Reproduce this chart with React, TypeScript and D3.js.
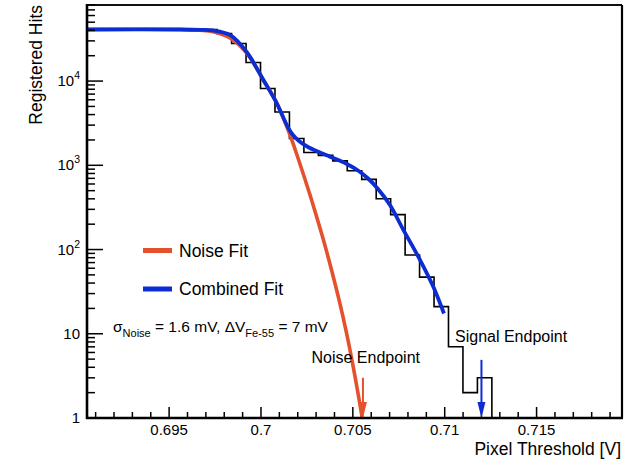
import React from "react";
import * as d3 from "d3";

// ---- data ----
const X_MIN = 0.69053;
const X_MAX = 0.71965;
const Y_MIN = 1;
const Y_MAX = 8e4;

// histogram: 37 uniform bins between X_MIN and X_MAX
const histCounts = [
  40800, 40800, 40800, 40800, 40800, 40800, 40800, 40800, 40800,
  36600, 27900, 16600, 8150, 4300, 2080, 1420, 1310, 1130, 860, 680,
  400, 260, 86, 47, 21, 7, 2, 3,
  0, 0, 0, 0, 0, 0, 0, 0, 0,
];

// noise fit (red)
const noiseFitX = [
  0.69053, 0.69559, 0.69668, 0.69739, 0.69831, 0.69922, 0.70013, 0.70086,
  0.70158, 0.70196, 0.70232, 0.70267, 0.703, 0.7034, 0.70384, 0.70425,
  0.70462, 0.70495, 0.70525, 0.70551,
];
const noiseFitY = [
  40970, 40970, 40080, 38580, 32460, 21550, 10300, 5490,
  2290, 1326, 767, 444, 257, 130, 57.2, 25.2,
  11.1, 4.88, 2.15, 1.0,
];

// combined fit (blue)
const combFitX = [
  0.69053, 0.69559, 0.69668, 0.69739, 0.69831, 0.69922, 0.70013, 0.70086,
  0.7012, 0.70147, 0.70174, 0.70207, 0.70251, 0.70321, 0.70376, 0.70467,
  0.70528, 0.70583, 0.70637, 0.70702, 0.70775, 0.70866, 0.70938, 0.70996,
];
const combFitY = [
  40970, 40970, 40620, 39860, 35250, 22140, 10300, 5450,
  3747, 2811, 2290, 1944, 1672, 1419, 1265, 1036,
  868, 697, 523, 338, 171, 75.1, 36.2, 17.4,
];

const xMajorTicks = [0.695, 0.7, 0.705, 0.71, 0.715];
const xTickLabels = ["0.695", "0.7", "0.705", "0.71", "0.715"];
const yMajorTicks = [1, 10, 100, 1000, 10000];
const yTickBase = ["1", "10", "10", "10", "10"];
const yTickExp = ["", "", "2", "3", "4"];

const endpoints = [
  { name: "Noise Endpoint", x: 0.70555, top: 3.0, color: "#e4512c" },
  { name: "Signal Endpoint", x: 0.712, top: 4.9, color: "#0c2cd4" },
];

const RED = "#e4512c";
const BLUE = "#0c2cd4";
const FONT = "'Liberation Sans', Arial, Helvetica, sans-serif";

export default function App() {
  const L = 87, R = 622, T = 5, B = 418;
  const x = d3.scaleLinear().domain([X_MIN, X_MAX]).range([L, R]);
  const y = d3.scaleLog().domain([Y_MIN, Y_MAX]).range([B, T]);
  const yc = (v: number) => (v < Y_MIN ? B : y(v));

  const nb = histCounts.length;
  const w = (X_MAX - X_MIN) / nb;
  const histPts: [number, number][] = histCounts.map((c, i) => [X_MIN + i * w, c]);
  histPts.push([X_MAX, histCounts[nb - 1]]);
  const histPath = d3
    .line<[number, number]>()
    .x((d) => x(d[0]))
    .y((d) => yc(d[1]))
    .curve(d3.curveStepAfter)(histPts) as string;

  const fitLine = d3
    .line<[number, number]>()
    .x((d) => x(d[0]))
    .y((d) => yc(d[1]))
    .curve(d3.curveCatmullRom.alpha(0.5));
  const noisePath = fitLine(noiseFitX.map((v, i) => [v, noiseFitY[i]])) as string;
  const combPath = fitLine(combFitX.map((v, i) => [v, combFitY[i]])) as string;

  // minor ticks
  const xMinor = d3.range(0.691, 0.7195, 0.001).filter(
    (v) => !xMajorTicks.some((m) => Math.abs(m - v) < 1e-7)
  );
  const yMinor: number[] = [];
  for (let dec = 1; dec <= 1e4; dec *= 10) {
    for (let k = 2; k <= 9; k++) {
      const v = k * dec;
      if (v <= Y_MAX) yMinor.push(v);
    }
  }

  return (
    <svg
      width={641}
      height={462}
      style={{ position: "absolute", left: 0, top: 0, background: "#fff" }}
      fontFamily={FONT}
    >
      <rect x={0} y={0} width={641} height={462} fill="#fff" />
      {/* histogram */}
      <path d={histPath} fill="none" stroke="#000" strokeWidth={1.6} />
      {/* fits */}
      <path d={noisePath} fill="none" stroke={RED} strokeWidth={3.6} strokeLinejoin="round" />
      <path d={combPath} fill="none" stroke={BLUE} strokeWidth={3.8} strokeLinejoin="round" />

      {/* frame */}
      <line x1={L} y1={T} x2={R} y2={T} stroke="#111" strokeWidth={2} />
      <line x1={R} y1={T} x2={R} y2={B} stroke="#000" strokeWidth={2.2} />
      <line x1={L} y1={T - 1} x2={L} y2={B + 1} stroke="#000" strokeWidth={2.6} />
      <line x1={L - 1} y1={B} x2={R + 1} y2={B} stroke="#000" strokeWidth={2.6} />

      {/* x ticks */}
      {xMajorTicks.map((v) => (
        <line key={"xM" + v} x1={x(v)} x2={x(v)} y1={B} y2={B - 11} stroke="#000" strokeWidth={1.5} />
      ))}
      {xMinor.map((v) => (
        <line key={"xm" + v} x1={x(v)} x2={x(v)} y1={B} y2={B - 6} stroke="#000" strokeWidth={1.5} />
      ))}
      {xMajorTicks.map((v, i) => (
        <text key={"xl" + v} x={x(v)} y={435} fontSize={15} textAnchor="middle" fill="#000">
          {xTickLabels[i]}
        </text>
      ))}

      {/* y ticks */}
      {yMajorTicks.map((v) => (
        <line key={"yM" + v} x1={L} x2={L + 16} y1={y(v)} y2={y(v)} stroke="#000" strokeWidth={1.5} />
      ))}
      {yMinor.map((v) => (
        <line key={"ym" + v} x1={L} x2={L + 8} y1={y(v)} y2={y(v)} stroke="#000" strokeWidth={1.5} />
      ))}
      {yMajorTicks.map((v, i) => (
        <text key={"yl" + v} x={80} y={y(v) + 5} fontSize={15} textAnchor="end" fill="#000">
          {yTickBase[i]}
          {yTickExp[i] && (
            <tspan fontSize={10.5} dy={-7}>
              {yTickExp[i]}
            </tspan>
          )}
        </text>
      ))}

      {/* axis titles */}
      <text x={621} y={455} fontSize={17.5} textAnchor="end" fill="#000">
        Pixel Threshold [V]
      </text>
      <text
        transform={`translate(42,5) rotate(-90)`}
        fontSize={17.5}
        textAnchor="end"
        fill="#000"
      >
        Registered Hits
      </text>

      {/* legend */}
      <line x1={143} x2={172} y1={250.5} y2={250.5} stroke={RED} strokeWidth={5} />
      <text x={179} y={256.5} fontSize={17.5} fill="#000">Noise Fit</text>
      <line x1={143} x2={172} y1={289} y2={289} stroke={BLUE} strokeWidth={5} />
      <text x={179} y={295} fontSize={17.5} fill="#000">Combined Fit</text>

      {/* annotation */}
      <text x={113} y={331.5} fontSize={15.5} fill="#000">
        σ
        <tspan fontSize={11} dy={5}>Noise</tspan>
        <tspan dy={-5}> = 1.6 mV, ΔV</tspan>
        <tspan fontSize={11} dy={5}>Fe-55</tspan>
        <tspan dy={-5}> = 7 mV</tspan>
      </text>

      {/* endpoints */}
      {endpoints.map((e) => {
        const px = x(e.x);
        const ty = y(e.top);
        return (
          <g key={e.name}>
            <line x1={px} x2={px} y1={ty} y2={B - 12} stroke={e.color} strokeWidth={2} />
            <path d={`M${px - 4},${B - 16} L${px + 4},${B - 16} L${px},${B} Z`} fill={e.color} />
          </g>
        );
      })}
      <text x={311.5} y={363} fontSize={16} fill="#000">Noise Endpoint</text>
      <text x={455} y={341.5} fontSize={16} fill="#000">Signal Endpoint</text>
    </svg>
  );
}
